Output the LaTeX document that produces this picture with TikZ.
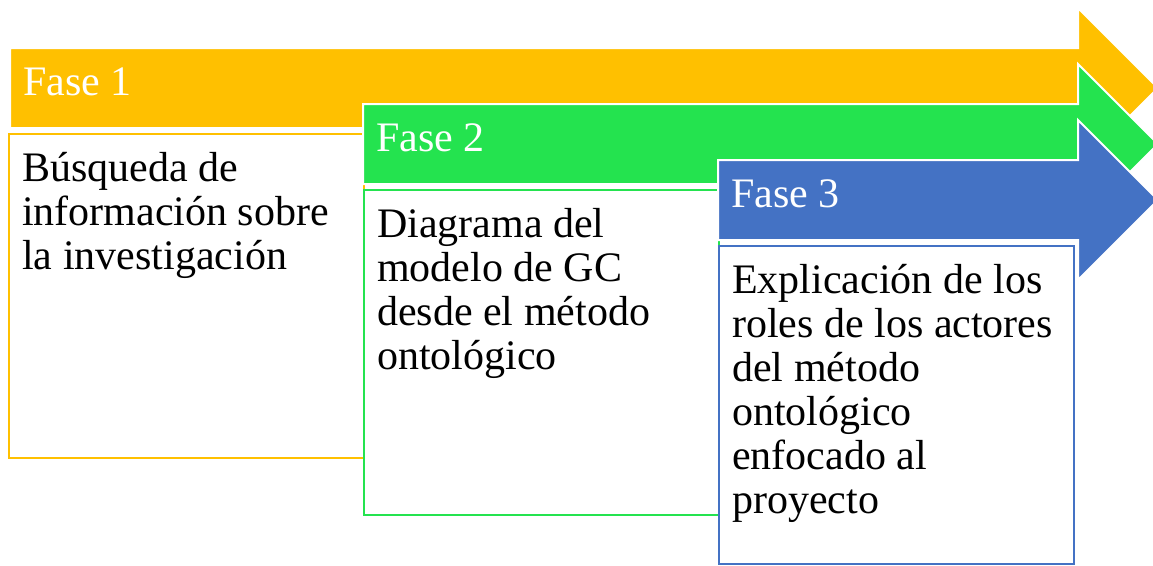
\documentclass[tikz,border=0pt]{standalone}
\usepackage{fontspec}
\setmainfont{Liberation Serif}
\usetikzlibrary{positioning}
\definecolor{faseorange}{HTML}{FFC000}
\definecolor{fasegreen}{HTML}{24E34F}
\definecolor{faseblue}{HTML}{4472C4}
\tikzset{
 band/.style={draw=white,line width=2pt,line join=miter},
 faselabel/.style={anchor=base west,inner sep=0pt,text=white,font=\fontsize{42}{44}\selectfont},
 fasebox/.style={rectangle,fill=white,line width=2pt,minimum width=355,inner sep=0pt},
 fasetext/.style={anchor=base west,inner sep=0pt,align=left,font=\fontsize{42}{44}\selectfont}
}
\begin{document}
\begin{tikzpicture}[x=1pt,y=-1pt]
\useasboundingbox (0,0) rectangle (1153,565);
\foreach \i/\xa/\xb/\ya/\col/\h/\n/\txt in {
 1/10/8/48/faseorange/324/3/{Búsqueda de\\información sobre\\la investigación},
 2/363/363/104/fasegreen/325/4/{Diagrama del\\modelo de GC\\desde el método\\ontológico},
 3/718/718/160/faseblue/318/6/{Explicación de los\\roles de los actores\\del método\\ontológico\\enfocado al\\proyecto}} {
 % arrow band with head
 \path[band,fill=\col] (\xa,\ya) -- (1078,\ya) -- (1078,\ya-40) -- (1158,\ya+40)
   -- (1078,\ya+120) -- (1078,\ya+80) -- (\xa,\ya+80) -- cycle;
 \node[faselabel] (fase\i) at (\xa+13,\ya+47) {Fase \i};
 % text box below the band (base anchor sits on the last line)
 \node[fasebox,draw=\col,minimum height=\h,anchor=north west] (box\i) at (\xb,\ya+85) {};
 \node[fasetext] (text\i) at (\xb+14,\ya+133.5+44*\n-44) {\txt};
}
\end{tikzpicture}
\end{document}
